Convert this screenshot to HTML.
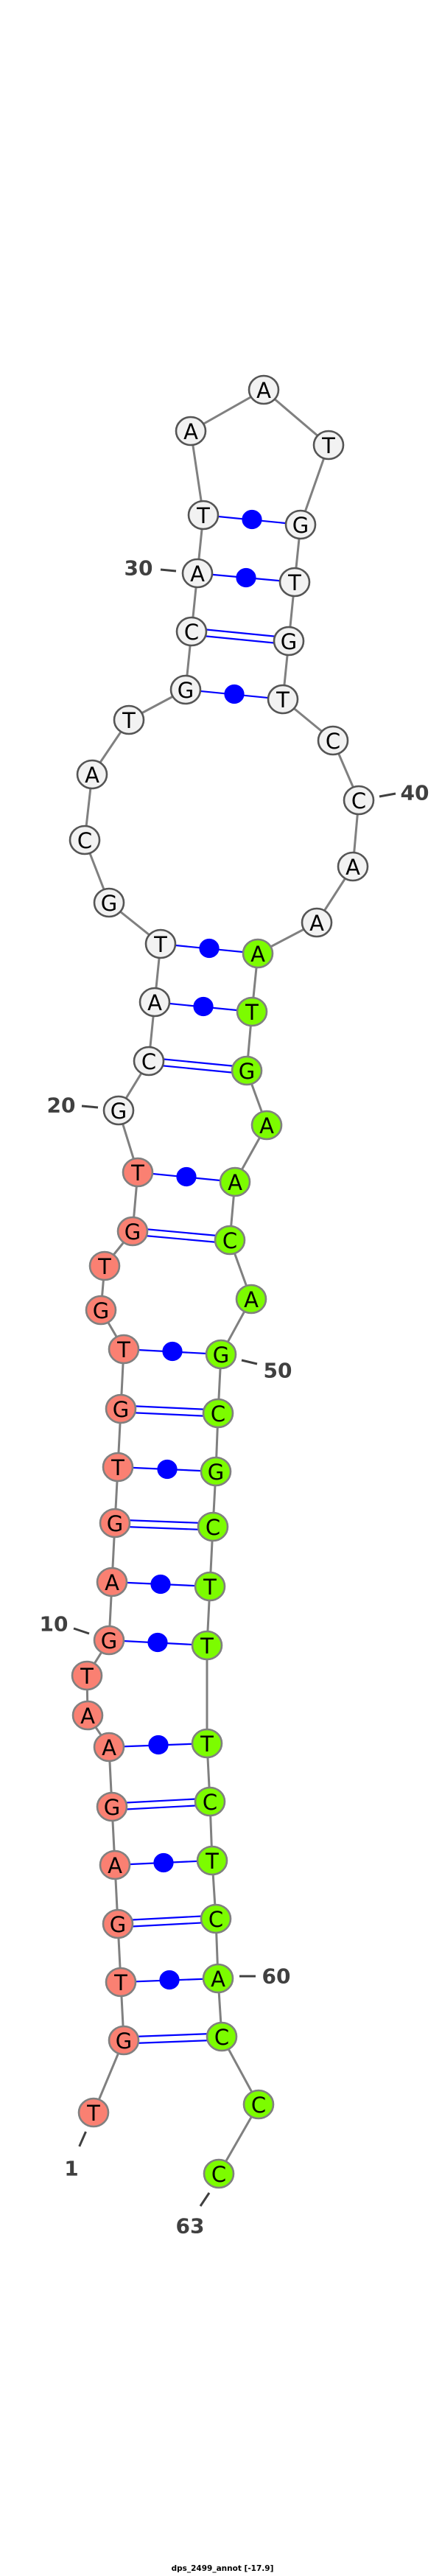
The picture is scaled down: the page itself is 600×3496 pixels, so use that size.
<!DOCTYPE html>
<html><head><meta charset="utf-8"><style>html,body{margin:0;padding:0;background:#fff}svg{display:block}</style></head>
<body>
<svg width="600" height="3496" viewBox="0 0 600 3496" xmlns="http://www.w3.org/2000/svg">
<g id="bb" fill="none" stroke="#808080" stroke-width="3">
<polyline points="127,2867 168,2769 164,2690 160,2611 156,2531 152,2452 148,2371 119,2328 118,2274 148,2226 152,2147 156,2067 160,1991 164,1912 168,1831 137,1778 142,1718 180,1671 187,1591 161,1507 202,1440 210,1360 218,1281 148,1225 115,1140 125,1051 175,977 252,936 260,857 268,778 276,699 259,585 358,529 446,604 408,712 400,790 392,870 384,949 452,1005 487,1086 479,1176 430,1252 350,1294 342,1373 335,1453 362,1527 319,1604 312,1683 341,1763 300,1838 296,1918 293,1997 289,2072 285,2153 281,2233 281,2366 285,2445 288,2525 293,2604 296,2685 301,2764 351,2856 297,2950"/>
</g>
<g stroke="#0000ff" stroke-width="2.2" fill="#0000ff">
<!-- dot pairs -->
<line x1="164" y1="2690" x2="296" y2="2685"/><ellipse cx="230" cy="2687" rx="12.5" ry="12"/>
<line x1="156" y1="2531" x2="288" y2="2525"/><ellipse cx="222" cy="2528" rx="12.5" ry="12"/>
<line x1="148" y1="2371" x2="281" y2="2366"/><ellipse cx="215" cy="2368" rx="12.5" ry="12"/>
<line x1="148" y1="2226" x2="281" y2="2233"/><ellipse cx="214" cy="2229" rx="12.5" ry="12"/>
<line x1="152" y1="2147" x2="285" y2="2153"/><ellipse cx="218" cy="2150" rx="12.5" ry="12"/>
<line x1="160" y1="1991" x2="293" y2="1997"/><ellipse cx="227" cy="1994" rx="12.5" ry="12"/>
<line x1="168" y1="1831" x2="300" y2="1838"/><ellipse cx="234" cy="1834" rx="12.5" ry="12"/>
<line x1="187" y1="1591" x2="319" y2="1604"/><ellipse cx="253" cy="1597" rx="12.5" ry="12"/>
<line x1="210" y1="1360" x2="342" y2="1373"/><ellipse cx="276" cy="1366" rx="12.5" ry="12"/>
<line x1="218" y1="1281" x2="350" y2="1294"/><ellipse cx="284" cy="1287" rx="12.5" ry="12"/>
<line x1="252" y1="936" x2="384" y2="949"/><ellipse cx="318" cy="942" rx="12.5" ry="12"/>
<line x1="268" y1="778" x2="400" y2="790"/><ellipse cx="334" cy="784" rx="12.5" ry="12"/>
<line x1="276" y1="699" x2="408" y2="712"/><ellipse cx="342" cy="705" rx="12.5" ry="12"/>
</g>
<g stroke="#0000ff" stroke-width="2.2" fill="none">
<!-- double pairs -->
<line x1="168" y1="2764.5" x2="301" y2="2759.5"/><line x1="168" y1="2773.5" x2="301" y2="2768.5"/>
<line x1="160" y1="2606.5" x2="293" y2="2599.5"/><line x1="160" y1="2615.5" x2="293" y2="2608.5"/>
<line x1="152" y1="2447.5" x2="285" y2="2440.5"/><line x1="152" y1="2456.5" x2="285" y2="2449.5"/>
<line x1="156" y1="2062.5" x2="289" y2="2067.5"/><line x1="156" y1="2071.5" x2="289" y2="2076.5"/>
<line x1="164" y1="1907.5" x2="296" y2="1913.5"/><line x1="164" y1="1916.5" x2="296" y2="1922.5"/>
<line x1="180" y1="1666.5" x2="312" y2="1678.5"/><line x1="180" y1="1675.5" x2="312" y2="1687.5"/>
<line x1="202" y1="1435.5" x2="335" y2="1448.5"/><line x1="202" y1="1444.5" x2="335" y2="1457.5"/>
<line x1="260" y1="852.5" x2="392" y2="865.5"/><line x1="260" y1="861.5" x2="392" y2="874.5"/>
</g>
<g font-family="'DejaVu Sans', 'Liberation Sans', sans-serif" font-size="29" text-anchor="middle" dominant-baseline="central">
<g stroke-width="2.6">
<!-- red -->
<g fill="#fa8072" stroke="#808080">
<ellipse cx="127" cy="2867" rx="20" ry="19"/><ellipse cx="168" cy="2769" rx="20" ry="19"/><ellipse cx="164" cy="2690" rx="20" ry="19"/><ellipse cx="160" cy="2611" rx="20" ry="19"/><ellipse cx="156" cy="2531" rx="20" ry="19"/><ellipse cx="152" cy="2452" rx="20" ry="19"/><ellipse cx="148" cy="2371" rx="20" ry="19"/><ellipse cx="119" cy="2328" rx="20" ry="19"/><ellipse cx="118" cy="2274" rx="20" ry="19"/><ellipse cx="148" cy="2226" rx="20" ry="19"/><ellipse cx="152" cy="2147" rx="20" ry="19"/><ellipse cx="156" cy="2067" rx="20" ry="19"/><ellipse cx="160" cy="1991" rx="20" ry="19"/><ellipse cx="164" cy="1912" rx="20" ry="19"/><ellipse cx="168" cy="1831" rx="20" ry="19"/><ellipse cx="137" cy="1778" rx="20" ry="19"/><ellipse cx="142" cy="1718" rx="20" ry="19"/><ellipse cx="180" cy="1671" rx="20" ry="19"/><ellipse cx="187" cy="1591" rx="20" ry="19"/>
</g>
<g fill="#f2f2f2" stroke="#555555">
<ellipse cx="161" cy="1507" rx="20" ry="19"/><ellipse cx="202" cy="1440" rx="20" ry="19"/><ellipse cx="210" cy="1360" rx="20" ry="19"/><ellipse cx="218" cy="1281" rx="20" ry="19"/><ellipse cx="148" cy="1225" rx="20" ry="19"/><ellipse cx="115" cy="1140" rx="20" ry="19"/><ellipse cx="125" cy="1051" rx="20" ry="19"/><ellipse cx="175" cy="977" rx="20" ry="19"/><ellipse cx="252" cy="936" rx="20" ry="19"/><ellipse cx="260" cy="857" rx="20" ry="19"/><ellipse cx="268" cy="778" rx="20" ry="19"/><ellipse cx="276" cy="699" rx="20" ry="19"/><ellipse cx="259" cy="585" rx="20" ry="19"/><ellipse cx="358" cy="529" rx="20" ry="19"/><ellipse cx="446" cy="604" rx="20" ry="19"/><ellipse cx="408" cy="712" rx="20" ry="19"/><ellipse cx="400" cy="790" rx="20" ry="19"/><ellipse cx="392" cy="870" rx="20" ry="19"/><ellipse cx="384" cy="949" rx="20" ry="19"/><ellipse cx="452" cy="1005" rx="20" ry="19"/><ellipse cx="487" cy="1086" rx="20" ry="19"/><ellipse cx="479" cy="1176" rx="20" ry="19"/><ellipse cx="430" cy="1252" rx="20" ry="19"/>
</g>
<g fill="#7cfc00" stroke="#808080">
<ellipse cx="350" cy="1294" rx="20" ry="19"/><ellipse cx="342" cy="1373" rx="20" ry="19"/><ellipse cx="335" cy="1453" rx="20" ry="19"/><ellipse cx="362" cy="1527" rx="20" ry="19"/><ellipse cx="319" cy="1604" rx="20" ry="19"/><ellipse cx="312" cy="1683" rx="20" ry="19"/><ellipse cx="341" cy="1763" rx="20" ry="19"/><ellipse cx="300" cy="1838" rx="20" ry="19"/><ellipse cx="296" cy="1918" rx="20" ry="19"/><ellipse cx="293" cy="1997" rx="20" ry="19"/><ellipse cx="289" cy="2072" rx="20" ry="19"/><ellipse cx="285" cy="2153" rx="20" ry="19"/><ellipse cx="281" cy="2233" rx="20" ry="19"/><ellipse cx="281" cy="2366" rx="20" ry="19"/><ellipse cx="285" cy="2445" rx="20" ry="19"/><ellipse cx="288" cy="2525" rx="20" ry="19"/><ellipse cx="293" cy="2604" rx="20" ry="19"/><ellipse cx="296" cy="2685" rx="20" ry="19"/><ellipse cx="301" cy="2764" rx="20" ry="19"/><ellipse cx="351" cy="2856" rx="20" ry="19"/><ellipse cx="297" cy="2950" rx="20" ry="19"/>
</g>
</g>
<g fill="#000">
<text x="127" y="2868">T</text><text x="168" y="2770">G</text><text x="164" y="2691">T</text><text x="160" y="2612">G</text><text x="156" y="2532">A</text><text x="152" y="2453">G</text><text x="148" y="2372">A</text><text x="119" y="2329">A</text><text x="118" y="2275">T</text><text x="148" y="2227">G</text><text x="152" y="2148">A</text><text x="156" y="2068">G</text><text x="160" y="1992">T</text><text x="164" y="1913">G</text><text x="168" y="1832">T</text><text x="137" y="1779">G</text><text x="142" y="1719">T</text><text x="180" y="1672">G</text><text x="187" y="1592">T</text>
<text x="161" y="1508">G</text><text x="202" y="1441">C</text><text x="210" y="1361">A</text><text x="218" y="1282">T</text><text x="148" y="1226">G</text><text x="115" y="1141">C</text><text x="125" y="1052">A</text><text x="175" y="978">T</text><text x="252" y="937">G</text><text x="260" y="858">C</text><text x="268" y="779">A</text><text x="276" y="700">T</text><text x="259" y="586">A</text><text x="358" y="530">A</text><text x="446" y="605">T</text><text x="408" y="713">G</text><text x="400" y="791">T</text><text x="392" y="871">G</text><text x="384" y="950">T</text><text x="452" y="1006">C</text><text x="487" y="1087">C</text><text x="479" y="1177">A</text><text x="430" y="1253">A</text>
<text x="350" y="1295">A</text><text x="342" y="1374">T</text><text x="335" y="1454">G</text><text x="362" y="1528">A</text><text x="319" y="1605">A</text><text x="312" y="1684">C</text><text x="341" y="1764">A</text><text x="300" y="1839">G</text><text x="296" y="1919">C</text><text x="293" y="1998">G</text><text x="289" y="2073">C</text><text x="285" y="2154">T</text><text x="281" y="2234">T</text><text x="281" y="2367">T</text><text x="285" y="2446">C</text><text x="288" y="2526">T</text><text x="293" y="2605">C</text><text x="296" y="2686">A</text><text x="301" y="2765">C</text><text x="351" y="2857">C</text><text x="297" y="2951">C</text>
</g>
</g>
<g stroke="#404040" stroke-width="3">
<line x1="218" y1="773" x2="239" y2="775"/>
<line x1="515" y1="1081" x2="537" y2="1077"/>
<line x1="111" y1="1501" x2="133" y2="1503"/>
<line x1="328" y1="1846" x2="349" y2="1851"/>
<line x1="100" y1="2210" x2="121" y2="2217"/>
<line x1="325" y1="2682" x2="347" y2="2682"/>
<line x1="116.5" y1="2893" x2="107.7" y2="2913"/>
<line x1="284" y1="2976" x2="272" y2="2994"/>
</g>
<g font-family="'DejaVu Sans', 'Liberation Sans', sans-serif" font-weight="bold" font-size="28" fill="#404040" text-anchor="middle" dominant-baseline="central">
<text x="188" y="771">30</text>
<text x="563" y="1076">40</text>
<text x="83" y="1500">20</text>
<text x="377" y="1860">50</text>
<text x="73" y="2204">10</text>
<text x="375" y="2682">60</text>
<text x="97" y="2943">1</text>
<text x="258" y="3021">63</text>
</g>
<text x="302" y="3489" font-family="'DejaVu Sans', 'Liberation Sans', sans-serif" font-weight="bold" font-size="10.5" fill="#000" text-anchor="middle">dps_2499_annot [-17.9]</text>
</svg>
</body></html>
